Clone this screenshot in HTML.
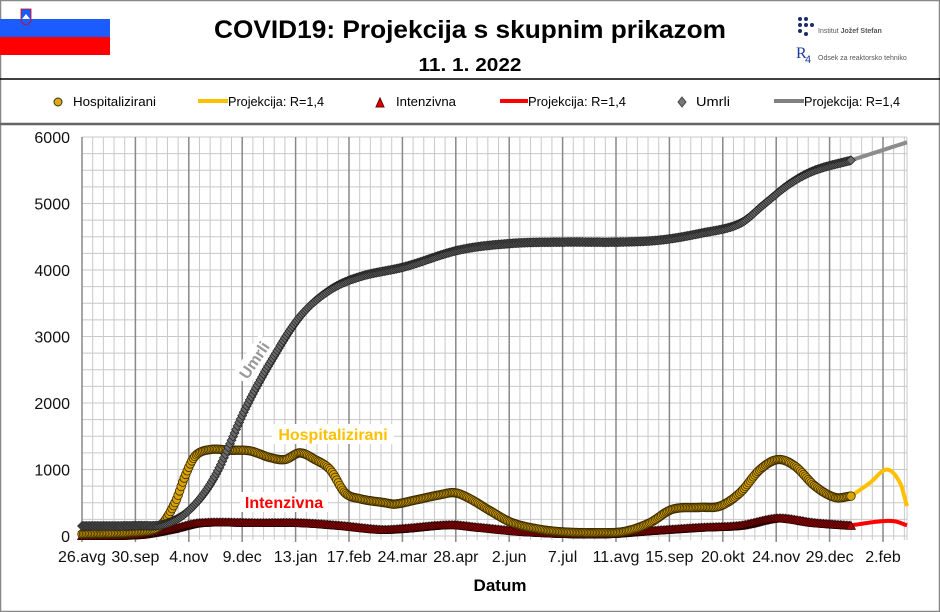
<!DOCTYPE html>
<html><head><meta charset="utf-8"><style>
html,body{margin:0;padding:0;background:#fff}
svg{display:block;font-family:"Liberation Sans",sans-serif}
</style></head><body>
<svg id="s" width="940" height="612" viewBox="0 0 940 612" xmlns="http://www.w3.org/2000/svg">
<rect x="0.5" y="0.5" width="939" height="611" fill="#fff" stroke="#888" stroke-width="1.5"/>
<!-- flag -->
<rect x="0" y="19" width="110" height="18" fill="#1c5cff"/>
<rect x="0" y="37" width="110" height="18" fill="#ff0000"/>
<path d="M21,9 h10 v12 q-5,8 -10,0 z" fill="#1c5cff" stroke="#d00" stroke-width="0.8"/>
<path d="M22,19 l4,-5 l4,5 z" fill="#fff"/>
<text x="470" y="38" text-anchor="middle" font-size="25" font-weight="bold" textLength="512" lengthAdjust="spacingAndGlyphs">COVID19: Projekcija s skupnim prikazom</text>
<text x="470" y="71" text-anchor="middle" font-size="18" font-weight="bold" textLength="103" lengthAdjust="spacingAndGlyphs">11. 1. 2022</text>
<g fill="#1a2a6c"><circle cx="800" cy="19" r="2"/><circle cx="806" cy="19" r="2"/><circle cx="800" cy="25" r="2"/><circle cx="806" cy="25" r="2"/><circle cx="812" cy="25" r="2"/><circle cx="800" cy="31" r="2"/><circle cx="806" cy="34" r="2"/></g>
<text x="818" y="33" font-size="7" fill="#555">Institut <tspan font-weight="bold">Jožef Stefan</tspan></text>
<text x="796" y="58" font-size="16" fill="#1a3a9c" font-family="Liberation Serif,serif">R</text><text x="805" y="63" font-size="11" fill="#1a3a9c">4</text>
<text x="818" y="60" font-size="7" fill="#555">Odsek za reaktorsko tehniko</text>
<line x1="0" y1="79" x2="940" y2="79" stroke="#000" stroke-width="1.5"/>
<line x1="0" y1="124" x2="940" y2="124" stroke="#666" stroke-width="2.5"/>
<!-- legend -->
<g font-size="13">
<circle cx="58" cy="102" r="4" fill="#e0a800" stroke="#333"/><text x="73" y="106" textLength="83" lengthAdjust="spacingAndGlyphs">Hospitalizirani</text>
<line x1="198" y1="101" x2="228" y2="101" stroke="#ffc000" stroke-width="4"/><text x="228" y="106" textLength="96" lengthAdjust="spacingAndGlyphs">Projekcija: R=1,4</text>
<path d="M376,107 l4,-9 l4,9 z" fill="#e00000" stroke="#600"/><text x="396" y="106" textLength="60" lengthAdjust="spacingAndGlyphs">Intenzivna</text>
<line x1="500" y1="101" x2="528" y2="101" stroke="#ff0000" stroke-width="4"/><text x="528" y="106" textLength="98" lengthAdjust="spacingAndGlyphs">Projekcija: R=1,4</text>
<path d="M682,97 l4,5 l-4,5 l-4,-5 z" fill="#777" stroke="#444"/><text x="696" y="106" textLength="34" lengthAdjust="spacingAndGlyphs">Umrli</text>
<line x1="774" y1="101" x2="804" y2="101" stroke="#808080" stroke-width="4"/><text x="804" y="106" textLength="96" lengthAdjust="spacingAndGlyphs">Projekcija: R=1,4</text>
</g>
<g id="grid"></g>
<g id="series"></g>
<g id="labels" font-size="16" fill="#111"></g>
<text x="500" y="591" text-anchor="middle" font-size="17" font-weight="bold">Datum</text>
<g transform="translate(254,360) rotate(-56)"><rect x="-24" y="-10" width="48" height="20" fill="#fff"/><text x="0" y="6" text-anchor="middle" font-size="16" font-weight="bold" fill="#999">Umrli</text></g>
<rect x="272" y="424" width="122" height="20" fill="#fff"/>
<text x="333" y="440" text-anchor="middle" font-size="16" font-weight="bold" fill="#ffc000">Hospitalizirani</text>
<rect x="240" y="492" width="88" height="20" fill="#fff"/>
<text x="284" y="508" text-anchor="middle" font-size="16" font-weight="bold" fill="#ff0000">Intenzivna</text>
</svg>
<script>
var NS="http://www.w3.org/2000/svg";
function el(p,t,a){var e=document.createElementNS(NS,t);for(var k in a)e.setAttribute(k,a[k]);p.appendChild(e);return e;}
var X0=82,X1=907,Y0=536,PY=66.5/1000,DX=53.4/35;
function Y(v){return Y0-v*PY;}
var g=document.getElementById("grid"),L=document.getElementById("labels");
for(var v=0;v<=6000;v+=250){el(g,"line",{x1:X0,x2:X1,y1:Y(v),y2:Y(v),stroke:"#c8c8c8","stroke-width":1});}
for(var d=0;;d+=7){var x=X0+d*DX;if(x>X1+0.5)break;var maj=d%35==0;
 el(g,"line",{x1:x,x2:x,y1:Y(6000),y2:Y0+(maj?6:4),stroke:maj?"#888":"#c8c8c8","stroke-width":maj?1.5:1});}
el(g,"line",{x1:X1,x2:X1,y1:Y(6000),y2:Y0+4,stroke:"#c8c8c8"});
for(var v=0;v<=6000;v+=1000){var t=el(L,"text",{x:70,y:Y(v)+6,"text-anchor":"end"});t.textContent=v;}
var lab=["26.avg","30.sep","4.nov","9.dec","13.jan","17.feb","24.mar","28.apr","2.jun","7.jul","11.avg","15.sep","20.okt","24.nov","29.dec","2.feb"];
lab.forEach(function(s,i){var t=el(L,"text",{x:X0+i*35*DX,y:562,"text-anchor":"middle"});t.textContent=s;});
function interp(pts,x){var n=pts.length;for(var i=0;i<n-1;i++){if(x<=pts[i+1][0]||i==n-2){
 var p0=pts[Math.max(0,i-1)],p1=pts[i],p2=pts[i+1],p3=pts[Math.min(n-1,i+2)];
 var t=(x-p1[0])/(p2[0]-p1[0]);t=Math.max(0,Math.min(1,t));
 var m1=(p2[1]-p0[1])/(p2[0]-p0[0])*(p2[0]-p1[0]),m2=(p3[1]-p1[1])/(p3[0]-p1[0])*(p2[0]-p1[0]);
 var t2=t*t,t3=t2*t;
 return (2*t3-3*t2+1)*p1[1]+(t3-2*t2+t)*m1+(-2*t3+3*t2)*p2[1]+(t3-t2)*m2;}}return pts[n-1][1];}
var H=[[82,30],[138,60],[160,150],[175,500],[185,900],[195,1200],[210,1300],[230,1290],[250,1280],[270,1180],[285,1150],[300,1250],[315,1150],[330,1000],[345,650],[360,560],[385,500],[395,480],[415,540],[440,620],[455,650],[470,560],[490,380],[512,200],[540,100],[565,60],[600,50],[625,70],[650,200],[672,400],[700,430],[720,450],[740,650],[760,1000],[778,1150],[795,1050],[815,750],[835,580],[851,600]];
var HP=[[851,600],[870,800],[887,1000],[900,800],[907,450]];
var I=[[82,5],[138,20],[170,100],[200,200],[260,200],[300,200],[340,160],[380,100],[400,110],[450,170],[480,130],[530,60],[600,30],[650,80],[700,130],[740,160],[778,270],[815,200],[851,160]];
var IP=[[851,160],[880,220],[895,220],[907,160]];
var U=[[82,150],[138,155],[165,180],[190,400],[215,900],[245,1900],[270,2600],[300,3300],[330,3700],[360,3900],[405,4050],[459,4300],[512,4400],[565,4420],[619,4420],[660,4450],[700,4550],[740,4700],[765,5000],[790,5300],[815,5500],[851,5650]];
var UP=[[851,5650],[907,5920]];
var S=document.getElementById("series");
function proj(p,c){var d="";for(var x=p[0][0];x<=907;x+=1)d+=(d?"L":"M")+x+","+Y(interp(p,x)).toFixed(1);el(S,"path",{d:d,fill:"none",stroke:c,"stroke-width":4});}
proj(UP,"#8c8c8c");proj(HP,"#ffc000");proj(IP,"#ff0000");
function marks(p,type){for(var x=82;x<=851.5;x+=DX){var y=Y(interp(p,x));
 if(type==0)el(S,"circle",{cx:x,cy:y,r:4.3,fill:"#d9a400",stroke:"#3a2a00","stroke-width":0.8});
 else if(type==1)el(S,"path",{d:"M"+(x-4.5)+","+(y+4)+"l4.5,-8l4.5,8z",fill:"#b00000",stroke:"#200","stroke-width":0.7});
 else el(S,"path",{d:"M"+x+","+(y-4.5)+"l4.5,4.5l-4.5,4.5l-4.5,-4.5z",fill:"#6a6a6a",stroke:"#222","stroke-width":0.7});}}
marks(I,1);marks(H,0);marks(U,2);
</script>
</body></html>
